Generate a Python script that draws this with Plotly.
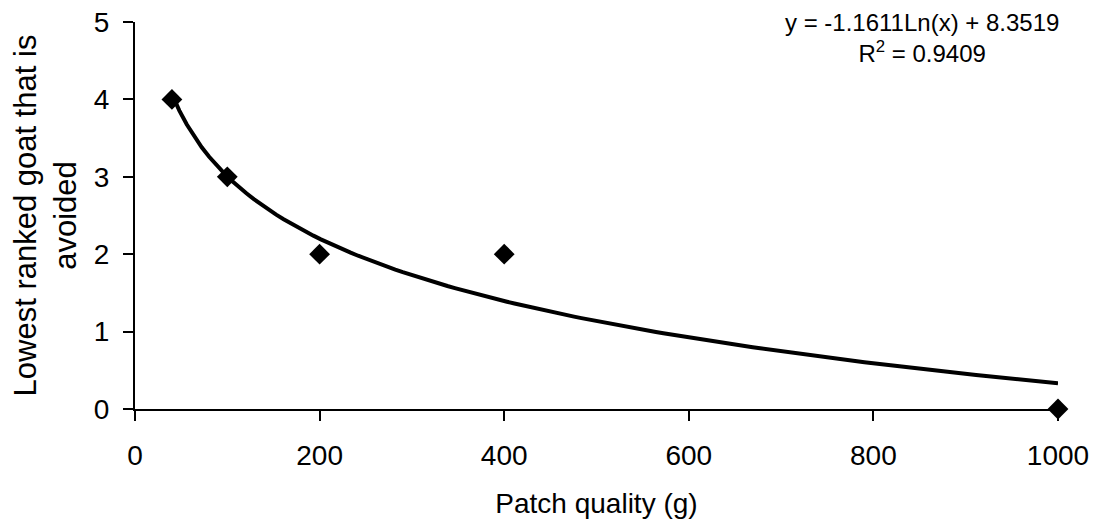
import numpy as np
import plotly.graph_objects as go

# Data
patch_quality = [40, 100, 200, 400, 1000]
lowest_rank_avoided = [4, 3, 2, 2, 0]

x_ticks = [0, 200, 400, 600, 800, 1000]
y_ticks = [0, 1, 2, 3, 4, 5]

# Logarithmic trendline fitted to the data (as in the spreadsheet)
lnx = np.log(patch_quality)
slope, intercept = np.polyfit(lnx, lowest_rank_avoided, 1)
pred = slope * lnx + intercept
yarr = np.array(lowest_rank_avoided, dtype=float)
r2 = 1 - np.sum((yarr - pred) ** 2) / np.sum((yarr - yarr.mean()) ** 2)

trend_x = np.linspace(min(patch_quality), max(patch_quality), 120)
trend_y = slope * np.log(trend_x) + intercept

FONT = "Liberation Sans, Arial, sans-serif"

fig = go.Figure()
fig.add_trace(go.Scatter(
    x=trend_x, y=trend_y, mode="lines",
    line=dict(color="black", width=4),
    hoverinfo="skip", showlegend=False, cliponaxis=False,
))
fig.add_trace(go.Scatter(
    x=patch_quality, y=lowest_rank_avoided, mode="markers",
    marker=dict(symbol="diamond", size=16, color="black"),
    showlegend=False, cliponaxis=False,
))

sign = "-" if slope < 0 else ""
eq = f"y = {sign}{abs(slope):.4f}Ln(x) + {intercept:.4f}<br>R<sup>2</sup> = {r2:.4f}"
fig.add_annotation(
    text=eq, xref="paper", yref="paper", x=0.853, y=0.958,
    xanchor="center", yanchor="middle", showarrow=False, align="center",
    font=dict(family=FONT, size=24, color="black"),
)

# page body adds an 8px offset; size the figure to fit the window exactly
fig.update_layout(
    width=1090, height=523,
    margin=dict(l=127, r=40, t=14, b=122),
    paper_bgcolor="white", plot_bgcolor="white",
    font=dict(family=FONT, color="black"),
    showlegend=False,
)
fig.update_xaxes(
    range=[0, 1000], tickvals=x_ticks, ticktext=[str(v) for v in x_ticks],
    showgrid=False, zeroline=False, showline=True, linecolor="black", linewidth=2,
    ticks="outside", ticklen=10, tickwidth=2, tickcolor="black",
    tickfont=dict(size=28), ticklabelstandoff=10, automargin=False,
    ticklabeloverflow="allow",
    title=dict(text="Patch quality (g)", font=dict(size=28), standoff=24),
)
fig.update_yaxes(
    range=[0, 5], tickvals=y_ticks, ticktext=[str(v) for v in y_ticks],
    showgrid=False, zeroline=False, showline=True, linecolor="black", linewidth=2,
    ticks="outside", ticklen=10, tickwidth=2, tickcolor="black",
    tickfont=dict(size=28), ticklabelstandoff=8, automargin=False,
    ticklabeloverflow="allow",
    title=dict(text="Lowest ranked goat that is<br>avoided", font=dict(size=31), standoff=10),
)

fig.write_html("out.html")
